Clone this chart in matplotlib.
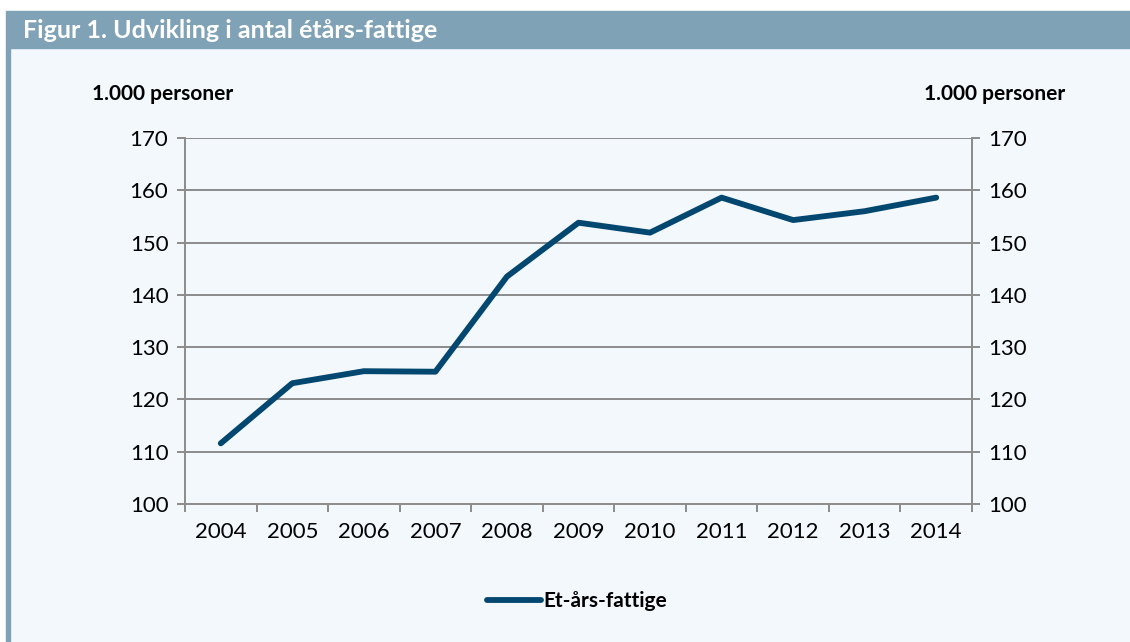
import numpy as np
import matplotlib.pyplot as plt
from matplotlib.patches import Rectangle

plt.rcParams['font.family'] = ['Lato', 'DejaVu Sans']

# ============================================================================
""" Data read off the figure (1.000 personer) """
years = ['2004', '2005', '2006', '2007', '2008', '2009',
         '2010', '2011', '2012', '2013', '2014']
etaars_fattige = [111.6, 123.1, 125.4, 125.3, 143.5, 153.8,
                  151.9, 158.6, 154.3, 156.0, 158.6]
yticks = [100, 110, 120, 130, 140, 150, 160, 170]

title = "Figur 1. Udvikling i antal étårs-fattige"
unit_label = "1.000 personer"
series_label = "Et-års-fattige"

W, H = 1130, 642
band_col = '#7fa2b6'
panel_col = '#f3f8fd'
line_col = '#02476f'
grid_col = '#8c8c8c'

# ============================================================================
fig = plt.figure(figsize=(W / 100, H / 100), dpi=100)
fig.patch.set_facecolor('white')

# panel background, header band and left border
fig.patches.append(Rectangle((10 / W, 0), 1, (H - 48) / H,
                             transform=fig.transFigure, color=panel_col, zorder=-5))
fig.patches.append(Rectangle((6 / W, (H - 48) / H), 1, 37 / H,
                             transform=fig.transFigure, color=band_col, zorder=-5))
fig.patches.append(Rectangle((6 / W, 0), 4 / W, (H - 48) / H,
                             transform=fig.transFigure, color=band_col, zorder=-5))
fig.text(23 / W, 1 - 31 / H, title, color='white', fontsize=18,
         fontweight='bold', va='center', ha='left')

ax = fig.add_axes([185 / W, 1 - 504 / H, (972 - 185) / W, (504 - 138) / H])
ax.set_facecolor('none')

x = np.arange(len(years))
ax.plot(x, etaars_fattige, color=line_col, lw=4.2, solid_capstyle='round',
        solid_joinstyle='round', label=series_label, zorder=3)

ax.set_xlim(-0.5, len(years) - 0.5)
ax.set_ylim(yticks[0], yticks[-1])
ax.set_yticks(yticks)
ax.yaxis.grid(True, color=grid_col, lw=1.4)
ax.set_axisbelow(True)

ax.set_xticks(x)
ax.set_xticklabels(years)
ax.set_xticks(np.arange(-0.5, len(years)), minor=True)
ax.tick_params(axis='x', which='major', length=0, pad=13, labelsize=16)
ax.tick_params(axis='x', which='minor', length=6, width=1.4, color=grid_col,
               direction='out')
ax.tick_params(axis='y', length=6, width=1.4, color=grid_col, labelsize=16,
               pad=6)

for s in ['left', 'right', 'bottom']:
    ax.spines[s].set_color(grid_col)
    ax.spines[s].set_linewidth(1.4)
ax.spines['top'].set_visible(False)

ax2 = ax.twinx()
ax2.set_ylim(ax.get_ylim())
ax2.set_yticks(yticks)
ax2.tick_params(axis='y', length=6, width=1.4, color=grid_col, labelsize=16,
                pad=6)
for s in ['left', 'top', 'bottom']:
    ax2.spines[s].set_visible(False)
ax2.spines['right'].set_color(grid_col)
ax2.spines['right'].set_linewidth(1.4)

fig.text(92 / W, 1 - 94 / H, unit_label, fontsize=15, fontweight='bold',
         va='center', ha='left')
fig.text(1065 / W, 1 - 94 / H, unit_label, fontsize=15, fontweight='bold',
         va='center', ha='right')

fig.legend(loc='center', bbox_to_anchor=(577 / W, 1 - 601 / H), frameon=False,
           prop={'weight': 'bold', 'size': 15}, handlelength=2.6,
           handletextpad=0.1)

fig.savefig('out.png', dpi=100, facecolor=fig.get_facecolor())
